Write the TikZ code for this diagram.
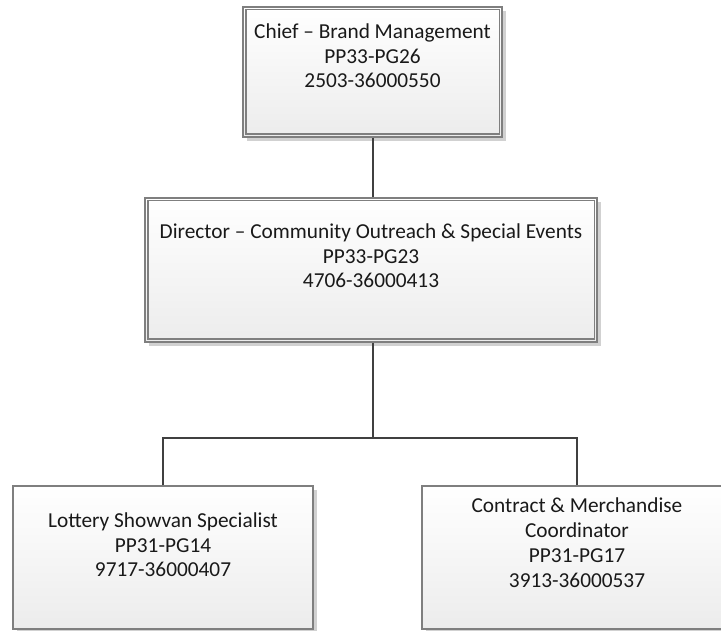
\documentclass[tikz,border=0pt]{standalone}
\usepackage{fontspec}
\setmainfont{Carlito}
\usetikzlibrary{calc}
\begin{document}
\begin{tikzpicture}[x=1pt,y=1pt,
  boxfill/.style={draw=boxline, line width=1.1pt, top color=white, bottom color=boxgray},
  shadowbox/.style={fill=black!18, draw=none},
  link/.style={draw=linkgray, line width=2.2pt},
  caption/.style={align=center, anchor=base, font=\fontsize{21.3}{24.8}\selectfont, text=black!90}]
\definecolor{boxline}{HTML}{7F7F7F}
\definecolor{boxgray}{HTML}{ECECEC}
\definecolor{linkgray}{HTML}{404040}
\useasboundingbox (0,0) rectangle (721,630);
\clip (0,0) rectangle (721,630);

% shadows
\fill[shadowbox] (247,489) rectangle (506,619);
\fill[shadowbox] (149,284) rectangle (601,428);
\fill[shadowbox] (17,-5) rectangle (317,140);
\fill[shadowbox] (426,-5) rectangle (736,140);

% boxes
\node[boxfill, minimum width=259pt, minimum height=130pt, inner sep=0pt] (chief) at (372.5,558) {};
\draw[boxline, line width=1.1pt] ($(chief.south west)+(3.5,3.5)$) rectangle ($(chief.north east)+(-3.5,-3.5)$);
\node[boxfill, minimum width=452pt, minimum height=144pt, inner sep=0pt] (director) at (371,360) {};
\draw[boxline, line width=1.1pt] ($(director.south west)+(3.5,3.5)$) rectangle ($(director.north east)+(-3.5,-3.5)$);
\node[boxfill, minimum width=300pt, minimum height=143pt, inner sep=0pt] (lottery) at (163,72.5) {};
\node[boxfill, minimum width=310pt, minimum height=143pt, inner sep=0pt] (contract) at (577,72.5) {};

% texts (anchored at the baseline of their last line)
\node[caption] (tchief) at (372.5,542) {Chief – Brand Management\\PP33-PG26\\2503-36000550};
\node[caption] (tdirector) at (371,342) {Director – Community Outreach \& Special Events\\PP33-PG23\\4706-36000413};
\node[caption] (tlottery) at (163,53) {Lottery Showvan Specialist\\PP31-PG14\\9717-36000407};
\node[caption] (tcontract) at (577,43) {Contract \& Merchandise\\Coordinator\\PP31-PG17\\3913-36000537};

% connectors
\coordinate (bus) at (373,192);
\draw[link] (chief.south -| bus) -- (director.north -| bus);
\draw[link] (director.south -| bus) -- (bus);
\draw[link] (lottery.north) -- (lottery.north |- bus) -- (contract.north |- bus) -- (contract.north);
\end{tikzpicture}
\end{document}
